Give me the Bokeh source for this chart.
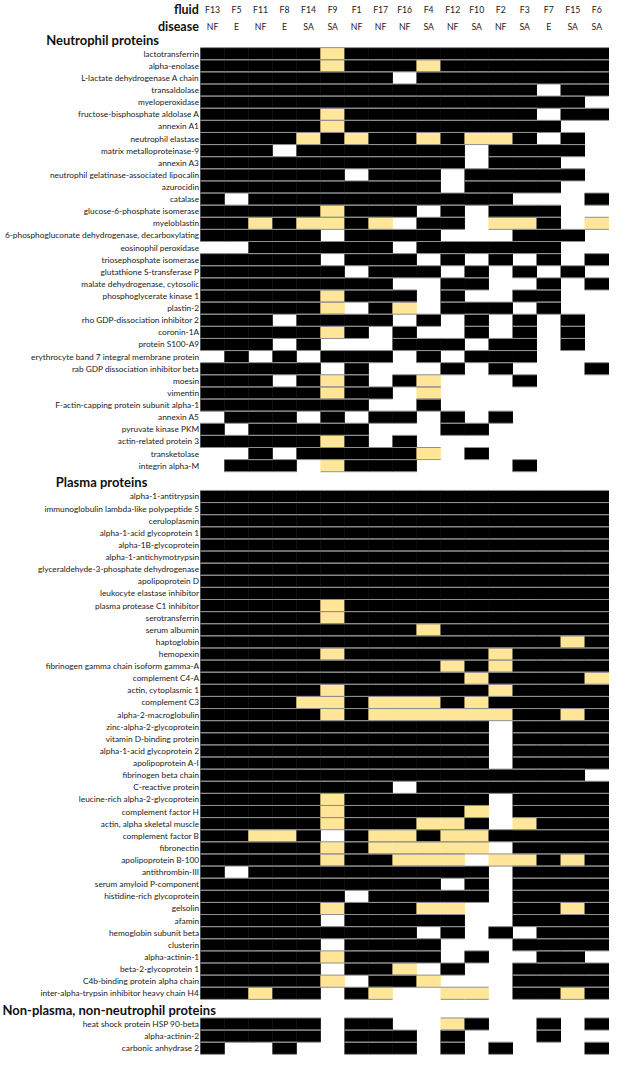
from bokeh.plotting import figure
from bokeh.models import Range1d, ColumnDataSource
from bokeh.embed import file_html
from bokeh.resources import INLINE
from bokeh.core.properties import value

# ---------------- data ----------------
fluids = ["F13", "F5", "F11", "F8", "F14", "F9", "F1", "F17", "F16", "F4",
          "F12", "F10", "F2", "F3", "F7", "F15", "F6"]
diseases = ["NF", "E", "NF", "E", "SA", "SA", "NF", "NF", "NF", "SA",
            "NF", "SA", "NF", "SA", "E", "SA", "SA"]

# cell codes per column: 1 = black, 2 = yellow, 0 = white
neutrophil_proteins = [
    "lactotransferrin", "alpha-enolase", "L-lactate dehydrogenase A chain",
    "transaldolase", "myeloperoxidase", "fructose-bisphosphate aldolase A",
    "annexin A1", "neutrophil elastase", "matrix metalloproteinase-9",
    "annexin A3", "neutrophil gelatinase-associated lipocalin", "azurocidin",
    "catalase", "glucose-6-phosphate isomerase", "myeloblastin",
    "6-phosphogluconate dehydrogenase, decarboxylating", "eosinophil peroxidase",
    "triosephosphate isomerase", "glutathione S-transferase P",
    "malate dehydrogenase, cytosolic", "phosphoglycerate kinase 1", "plastin-2",
    "rho GDP-dissociation inhibitor 2", "coronin-1A", "protein S100-A9",
    "erythrocyte band 7 integral membrane protein",
    "rab GDP dissociation inhibitor beta", "moesin", "vimentin",
    "F-actin-capping protein subunit alpha-1", "annexin A5",
    "pyruvate kinase PKM", "actin-related protein 3", "transketolase",
    "integrin alpha-M",
]
neutrophil_values = [
    "11111211111111111", "11111211121111111", "11111111011111111",
    "11111111111111011", "11111111111111110", "11111211111111011",
    "11111211111111100", "11112121121221010", "11101111111011110",
    "11111111111011100", "11111101110111110", "11111111110111100",
    "10111111111110001", "11111211101011100", "11212212011022102",
    "11111011110001110", "00111111011111100", "11111011101010101",
    "11111101110101010", "11111111001100101", "11111211101001100",
    "11111201201110100", "11101111010101010", "11111210100101010",
    "11101000111011010", "01010111010111000", "11111010001010001",
    "11101210120001000", "11111211020000000", "11111110010000000",
    "01110101101010000", "10111110001100000", "11111210100000000",
    "00101111120100000", "01110211100001000",
]

plasma_proteins = [
    "alpha-1-antitrypsin", "immunoglobulin lambda-like polypeptide 5",
    "ceruloplasmin", "alpha-1-acid glycoprotein 1", "alpha-1B-glycoprotein",
    "alpha-1-antichymotrypsin", "glyceraldehyde-3-phosphate dehydrogenase",
    "apolipoprotein D", "leukocyte elastase inhibitor",
    "plasma protease C1 inhibitor", "serotransferrin", "serum albumin",
    "haptoglobin", "hemopexin", "fibrinogen gamma chain isoform gamma-A",
    "complement C4-A", "actin, cytoplasmic 1", "complement C3",
    "alpha-2-macroglobulin", "zinc-alpha-2-glycoprotein",
    "vitamin D-binding protein", "alpha-1-acid glycoprotein 2",
    "apolipoprotein A-I", "fibrinogen beta chain", "C-reactive protein",
    "leucine-rich alpha-2-glycoprotein", "complement factor H",
    "actin, alpha skeletal muscle", "complement factor B", "fibronectin",
    "apolipoprotein B-100", "antithrombin-III", "serum amyloid P-component",
    "histidine-rich glycoprotein", "gelsolin", "afamin",
    "hemoglobin subunit beta", "clusterin", "alpha-actinin-1",
    "beta-2-glycoprotein 1", "C4b-binding protein alpha chain",
    "inter-alpha-trypsin inhibitor heavy chain H4",
]
plasma_values = [
    "11111111111111111", "11111111111111111", "11111111111111111",
    "11111111111111111", "11111111111111111", "11111111111111111",
    "11111111111111111", "11111111111111111", "11111111111111111",
    "11111211111111111", "11111211111111111", "11111111121111111",
    "11111111111111121", "11111211111121111", "11111111112121111",
    "11111111111211112", "11111211111121111", "11112212221211111",
    "11111212222221121", "11111111111101111", "11111111111101111",
    "11111111111101111", "11111111111101111", "11111111111111110",
    "11111111011111111", "11111211111101111", "11111211111201111",
    "11111211122102111", "11221012212211111", "11111212222201111",
    "11111211222022121", "10111111111101111", "11111111110101111",
    "11111101111101111", "11111211122001121", "11111011111001111",
    "11111111101010111", "11111011110001111", "11111211110100110",
    "11111011201001111", "11111201120001111", "11211012002201121",
]

other_proteins = [
    "heat shock protein HSP 90-beta", "alpha-actinin-2", "carbonic anhydrase 2",
]
other_values = [
    "11111011002100101", "11111011101000100", "10010011101010001",
]

group_titles = ["Neutrophil proteins", "Plasma proteins",
                "Non-plasma, non-neutrophil proteins"]

# ---------------- layout (reference pixel units) ----------------
ROW_H = 12.3
BLOCK_START = [54.0, 503.5, 1039.0]        # centre of first row per block
TITLE_Y = [40.0, 489.0, 1025.0]
TITLE_X = [-6.43, -6.03, -8.25]            # in column units
COLORS = {"1": "#000000", "2": "#FFE699", "0": "#FFFFFF"}
LABEL_FONT = value("Lato")
LABEL_SIZE = "8.3px"

p = figure(width=609, height=1058, x_range=Range1d(-8.33, 17.03),
           y_range=Range1d(1074, 0), output_backend="svg",
           toolbar_location=None, min_border=0)
p.axis.visible = False
p.grid.visible = False
p.outline_line_color = None
p.background_fill_color = "white"
p.border_fill_color = "white"

blocks = [(neutrophil_proteins, neutrophil_values),
          (plasma_proteins, plasma_values),
          (other_proteins, other_values)]

cx, cy, cc = [], [], []
sx0, sx1, sy = [], [], []
lab_y, lab_t = [], []
for b, (names, vals) in enumerate(blocks):
    for r, (name, row) in enumerate(zip(names, vals)):
        yc = BLOCK_START[b] + r * ROW_H
        lab_y.append(yc)
        lab_t.append(name)
        for c, code in enumerate(row):
            if code == "0":
                continue
            cx.append(c + 0.5)
            cy.append(yc)
            cc.append(COLORS[code])
            for edge in (yc - ROW_H / 2, yc + ROW_H / 2):
                sx0.append(c)
                sx1.append(c + 1)
                sy.append(edge)

cells = ColumnDataSource(dict(x=cx, y=cy, color=cc))
p.rect(x="x", y="y", width=1.02, height=ROW_H, source=cells,
       fill_color="color", line_color=None)

p.segment(x0=sx0, y0=sy, x1=sx1, y1=sy, line_color="#8f8f8f", line_width=1)

# row labels
p.text(x=[-0.06] * len(lab_y), y=lab_y, text=lab_t, text_align="right",
       text_baseline="middle", text_font=LABEL_FONT, text_font_size=LABEL_SIZE,
       text_color="#1a1a1a")

# column header
xs = [i + 0.5 for i in range(len(fluids))]
p.text(x=xs, y=[9] * len(xs), text=fluids, text_align="center",
       text_baseline="middle", text_font=LABEL_FONT, text_font_size="8.7px",
       text_color="#1a1a1a")
p.text(x=xs, y=[26] * len(xs), text=diseases, text_align="center",
       text_baseline="middle", text_font=LABEL_FONT, text_font_size="8.7px",
       text_color="#1a1a1a")
p.text(x=[-0.07, -0.07], y=[9, 26], text=["fluid", "disease"],
       text_align="right", text_baseline="middle", text_font=value("Lato"),
       text_font_style="bold", text_font_size="12.5px", text_color="#111111")

# group titles
p.text(x=TITLE_X, y=TITLE_Y, text=group_titles, text_align="left",
       text_baseline="middle", text_font=value("Lato"),
       text_font_style="bold", text_font_size="13px", text_color="#111111")

open("out.html", "w").write(file_html(p, INLINE))
